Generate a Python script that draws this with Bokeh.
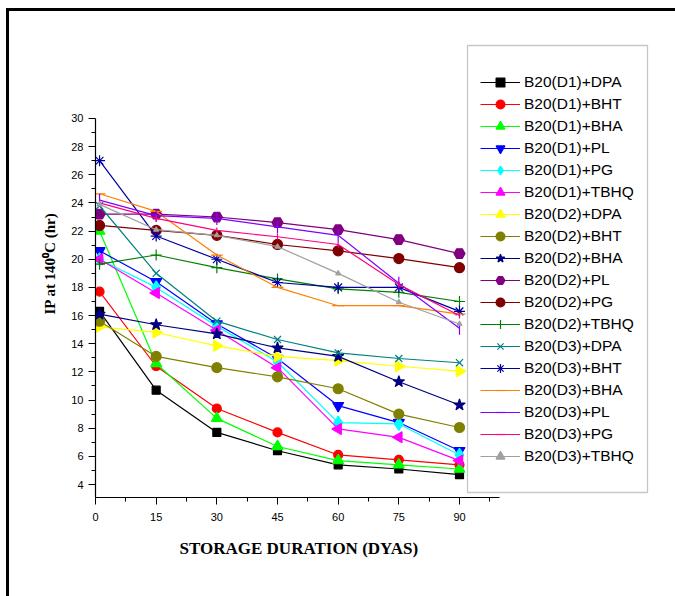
import math
from bokeh.plotting import figure
from bokeh.models import (Range1d, FixedTicker, Legend, LegendItem, BoxAnnotation,
                          Title, InlineStyleSheet)
from bokeh.embed import file_html
from bokeh.resources import INLINE

# ---- data ----
days = [1, 15, 30, 45, 60, 75, 90]
x_tick_values = [0, 15, 30, 45, 60, 75, 90]
y_tick_values = [4, 6, 8, 10, 12, 14, 16, 18, 20, 22, 24, 26, 28, 30]

series_names = [
    "B20(D1)+DPA", "B20(D1)+BHT", "B20(D1)+BHA", "B20(D1)+PL", "B20(D1)+PG", "B20(D1)+TBHQ",
    "B20(D2)+DPA", "B20(D2)+BHT", "B20(D2)+BHA", "B20(D2)+PL", "B20(D2)+PG", "B20(D2)+TBHQ",
    "B20(D3)+DPA", "B20(D3)+BHT", "B20(D3)+BHA", "B20(D3)+PL", "B20(D3)+PG", "B20(D3)+TBHQ",
]

d1_dpa = [16.3, 10.7, 7.7, 6.4, 5.4, 5.1, 4.7]
d1_bht = [17.7, 12.4, 9.4, 7.7, 6.1, 5.75, 5.4]
d1_bha = [22.0, 12.6, 8.7, 6.7, 5.7, 5.4, 5.1]
d1_pl = [20.6, 18.4, 15.4, 12.95, 9.6, 8.4, 6.4]
d1_pg = [20.0, 18.0, 15.25, 12.7, 8.4, 8.3, 6.1]
d1_tbhq = [20.0, 17.6, 14.95, 12.3, 7.95, 7.35, 5.7]
d2_dpa = [15.2, 14.8, 13.85, 13.1, 12.8, 12.4, 12.05]
d2_bht = [15.6, 13.1, 12.3, 11.65, 10.8, 9.0, 8.05]
d2_bha = [16.1, 15.35, 14.7, 13.7, 13.1, 11.3, 9.65]
d2_pl = [23.2, 23.2, 23.0, 22.6, 22.1, 21.4, 20.4]
d2_pg = [22.4, 22.05, 21.7, 21.05, 20.6, 20.05, 19.4]
d2_tbhq = [19.65, 20.3, 19.4, 18.6, 17.9, 17.65, 17.0]
d3_dpa = [23.8, 19.0, 15.6, 14.3, 13.35, 12.95, 12.65]
d3_bht = [27.0, 21.65, 20.0, 18.35, 18.0, 18.0, 16.3]
d3_bha = [24.65, 23.4, 20.3, 18.0, 16.7, 16.7, 16.1]
d3_pl = [24.2, 23.1, 22.9, 22.3, 21.7, 18.3, 15.1]
d3_pg = [24.0, 22.9, 22.05, 21.6, 21.05, 18.2, 16.0]
d3_tbhq = [23.9, 22.1, 21.7, 20.9, 19.0, 16.95, 15.4]

series_values = [d1_dpa, d1_bht, d1_bha, d1_pl, d1_pg, d1_tbhq,
                 d2_dpa, d2_bht, d2_bha, d2_pl, d2_pg, d2_tbhq,
                 d3_dpa, d3_bht, d3_bha, d3_pl, d3_pg, d3_tbhq]

x_title = "STORAGE DURATION (DYAS)"
y_title = "IP at 140\u2070C (hr)"

# ---- styles ----
styles = [
    dict(color="#000000", marker="square", size=8, angle=0),
    dict(color="#FF0000", marker="circle", size=9, angle=0),
    dict(color="#00FF00", marker="triangle", size=11, angle=0),
    dict(color="#0000FF", marker="inverted_triangle", size=11, angle=0),
    dict(color="#00FFFF", marker="diamond", size=13, angle=0),
    dict(color="#FF00FF", marker="triangle", size=11, angle=math.pi / 2),
    dict(color="#FFFF00", marker="triangle", size=11, angle=-math.pi / 2),
    dict(color="#808000", marker="circle", size=10, angle=0),
    dict(color="#000080", marker="star", size=12, angle=0),
    dict(color="#800080", marker="hex", size=11, angle=0),
    dict(color="#800000", marker="circle", size=10, angle=0),
    dict(color="#008000", marker="cross", size=11, angle=0),
    dict(color="#008080", marker="x", size=10, angle=0),
    dict(color="#0000A0", marker="asterisk", size=11, angle=0),
    dict(color="#FF8000", marker="dash", size=12, angle=0),
    dict(color="#8000FF", marker="dash", size=13, angle=math.pi / 2),
    dict(color="#FF0080", marker="dash", size=6, angle=math.pi / 2),
    dict(color="#A0A0A0", marker="triangle", size=5, angle=0),
]

p = figure(width=675, height=596, output_backend="svg", toolbar_location=None,
           x_range=Range1d(0, 139.7), y_range=Range1d(3.077, 36.32),
           min_border_left=95, min_border_right=15, min_border_top=29, min_border_bottom=99)
p.outline_line_color = None
p.grid.visible = False
p.background_fill_color = "white"
p.border_fill_color = "white"

# outer page frame (thick black lines at left and top)
p.stylesheets = [InlineStyleSheet(css=(
    ":host { position: relative; }"
    ":host::before { content: ''; position: absolute; left: 6px; top: 8px; "
    "width: 669px; height: 588px; box-sizing: border-box; "
    "border-left: 3px solid black; border-top: 3px solid black; "
    "z-index: 100; pointer-events: none; }"
))]

items = []
for name, vals, st in zip(series_names, series_values, styles):
    lr = p.line(days, vals, line_color=st["color"], line_width=1.2)
    sr = p.scatter(days, vals, marker=st["marker"], size=st["size"], angle=st["angle"],
                   fill_color=st["color"], line_color=st["color"], line_width=1.2)
    items.append(LegendItem(label=name, renderers=[lr, sr]))

# axes
p.xaxis.ticker = FixedTicker(ticks=x_tick_values,
                             minor_ticks=[7.5, 22.5, 37.5, 52.5, 67.5, 82.5, 97.5])
p.yaxis.ticker = FixedTicker(ticks=y_tick_values, minor_ticks=list(range(5, 30, 2)))
p.xaxis.bounds = (0, 100)
p.yaxis.bounds = (3.077, 30)
for ax in (p.xaxis[0], p.yaxis[0]):
    ax.axis_line_color = "black"
    ax.axis_line_width = 1.2
    ax.major_tick_in = 0
    ax.major_tick_out = 7
    ax.minor_tick_in = 0
    ax.minor_tick_out = 4
    ax.major_tick_line_color = "black"
    ax.minor_tick_line_color = "black"
    ax.major_label_text_font = "Liberation Sans"
    ax.major_label_text_font_size = "11px"
    ax.major_label_text_color = "black"
    ax.axis_label_text_font = "Liberation Serif"
    ax.axis_label_text_font_style = "bold"
    ax.axis_label_text_font_size = "15px"
    ax.axis_label_text_color = "black"
p.yaxis.axis_label = y_title
p.xaxis.major_label_standoff = 8
p.yaxis.major_label_standoff = 5
p.yaxis.axis_label_standoff = 10

# x-axis title, centred under the axis line (0..100)
xt = Title(text=x_title, align="left", offset=84, vertical_align="top", standoff=30,
           text_font="Liberation Serif", text_font_style="bold", text_font_size="17px",
           text_color="black")
p.add_layout(xt, "below")

# legend box
lbox = BoxAnnotation(left=467, right=647, top=45, bottom=492,
                     left_units="canvas", right_units="canvas",
                     top_units="canvas", bottom_units="canvas",
                     fill_color="white", fill_alpha=1, line_color="#444444", line_width=1.3)
p.add_layout(lbox)

legend = Legend(items=items, location=(385, 30), padding=0, margin=0, spacing=0,
                glyph_width=40, glyph_height=22, label_height=22, label_standoff=4,
                label_text_font="Liberation Sans", label_text_font_size="15.5px",
                label_text_color="black",
                border_line_alpha=0, background_fill_alpha=0)
p.add_layout(legend, "center")

open("out.html", "w").write(file_html(p, INLINE))
